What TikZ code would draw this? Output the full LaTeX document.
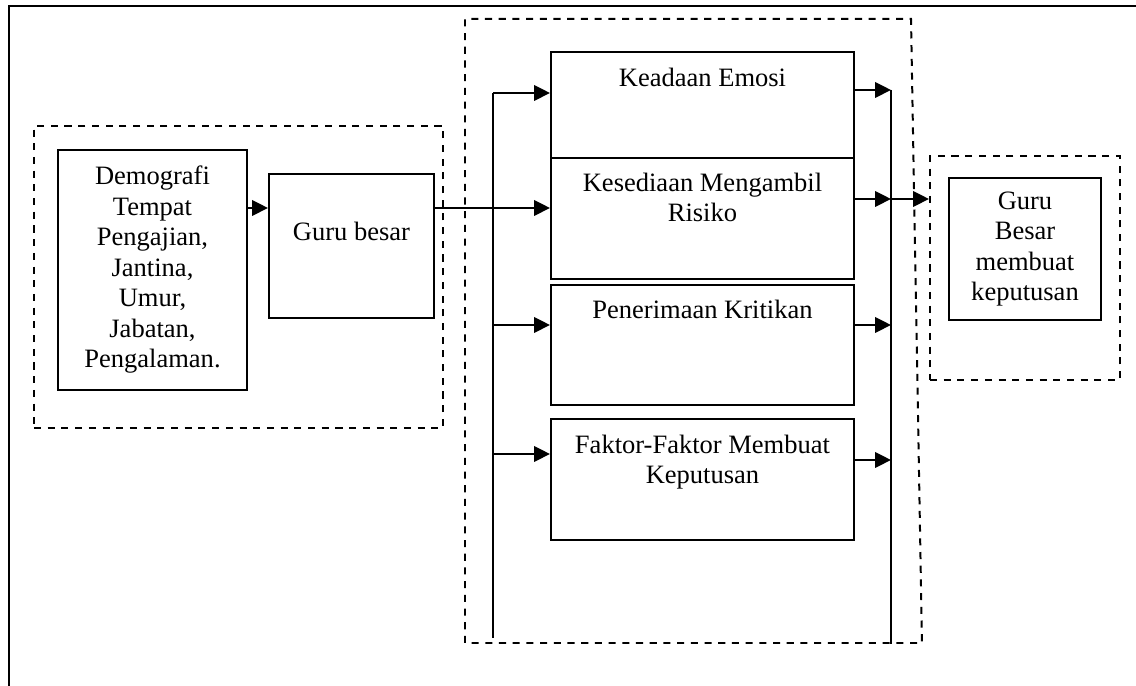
\documentclass[tikz,border=0pt]{standalone}
\usepackage{fontspec}
\setmainfont{Liberation Serif}
\usetikzlibrary{arrows.meta, positioning}

\def\px{0.4525pt}

\begin{document}
\begin{tikzpicture}[x=\px, y=-\px, font=\fontsize{12}{13.8}\selectfont,
    garis/.style={line width=0.9pt},
    putus/.style={line width=0.9pt, dash pattern=on 3.2pt off 3pt},
    panah/.style={line width=0.9pt, -{Triangle[length=7.2pt,width=7pt]}},
    kotak/.style 2 args={draw, line width=0.9pt, inner sep=0pt, anchor=north west,
      align=center, minimum width=#1*\px, minimum height=#2*\px},
    bingkai/.style 2 args={putus, inner sep=0pt, anchor=north west,
      minimum width=#1*\px, minimum height=#2*\px},
    teks/.style={inner sep=0pt, align=center}]
  \useasboundingbox (0,0) rectangle (1136,686);

  % bingkai luar
  \draw[garis] (9,686) -- (9,6) -- (1136,6);

  % kotak putus-putus
  \node[bingkai={409}{302}, draw] (kotakKiri) at (33,125) {};
  \draw[putus] (465,643) -- (465,19) -- (911,19) -- (922,643) -- cycle;
  \node[bingkai={190}{224}, draw] (kotakKanan) at (929,155) {};

  % kotak
  \node[kotak={189}{240}] (demografi) at (57,149)
    {Demografi\\Tempat\\Pengajian,\\Jantina,\\Umur,\\Jabatan,\\Pengalaman.};
  \node[kotak={165}{144}] (guru) at (268,173) {};
  \node[kotak={303}{106}] (emosi) at (550,51) {};
  \node[kotak={303}{121}] (risiko) at (550,157) {};
  \node[kotak={303}{120}] (kritikan) at (550,284) {};
  \node[kotak={303}{121}] (faktor) at (550,418) {};
  \node[kotak={152}{142}] (keputusan) at (948,177) {Guru\\Besar\\membuat\\keputusan};

  \node[teks, below=22pt of guru.north] (guruTeks) {Guru besar};
  \node[teks, below=7.4pt of emosi.north] (emosiTeks) {Keadaan Emosi};
  \node[teks, below=7pt of risiko.north] (risikoTeks) {Kesediaan Mengambil\\Risiko};
  \node[teks, below=7pt of kritikan.north] (kritikanTeks) {Penerimaan Kritikan};
  \node[teks, below=7.4pt of faktor.north] (faktorTeks) {Faktor-Faktor Membuat\\Keputusan};

  % anak panah
  \coordinate (tengah) at (493,208);
  \coordinate (kiriBawah) at (493,638);
  \coordinate (kananBawah) at (891,644);
  \draw[panah] (tengah -| demografi.east) -- (tengah -| guru.west);
  \draw[panah] (tengah -| guru.east) -- (tengah -| risiko.west);

  \foreach \n/\y in {emosi/93, kritikan/325, faktor/454} {
    \coordinate (k-\n) at (493,\y);
    \draw[panah] (k-\n) -- (k-\n -| \n.west);
  }
  \draw[garis] (k-emosi) -- (kiriBawah);

  \foreach \n/\y in {emosi/90, risiko/199, kritikan/325, faktor/460} {
    \coordinate (r-\n) at (891,\y);
    \draw[panah] (r-\n -| \n.east) -- (r-\n);
  }
  \draw[garis] (r-emosi) -- (kananBawah);
  \draw[panah] (r-risiko) -- (r-risiko -| kotakKanan.west);
\end{tikzpicture}
\end{document}
